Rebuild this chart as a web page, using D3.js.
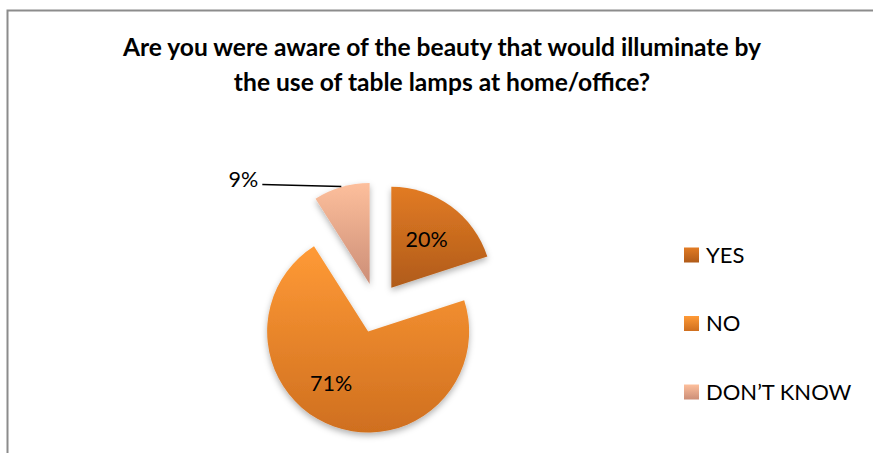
<!DOCTYPE html>
<html>
<head>
<meta charset="utf-8">
<script src="https://cdn.jsdelivr.net/npm/d3@7"></script>
<style>
  html, body { margin: 0; padding: 0; background: #fff; }
  svg { display: block; font-family: Lato, "Open Sans", sans-serif; }
</style>
</head>
<body>
<div id="chart"></div>
<script>
(function () {
    'use strict';
    var w = 873;
    var h = 453;

    // data
    var categories = ["YES", "NO", "DON\u2019T KNOW"];
    var values = [20, 71, 9];
    var valueLabels = ["20%", "71%", "9%"];
    var titleLines = [
        "Are you were aware of the beauty that would illuminate by",
        "the use of table lamps at home/office?"
    ];
    var topColors = ["#e27b24", "#ff9a36", "#fdbf9c"];
    var bottomColors = ["#b05b19", "#cf6f1f", "#cc8e77"];

    var cx = 376.6, cy = 308, r = 101, explode = 25;

    var svg = d3.select("#chart")
        .append("svg")
        .attr("width", w)
        .attr("height", h);

    var defs = svg.append("defs");

    // one vertical gradient per category
    categories.forEach(function (c, i) {
        var g = defs.append("linearGradient")
            .attr("id", "grad" + i)
            .attr("x1", 0).attr("y1", 0)
            .attr("x2", 0).attr("y2", 1);
        g.append("stop").attr("offset", "0%").attr("stop-color", topColors[i]);
        g.append("stop").attr("offset", "100%").attr("stop-color", bottomColors[i]);
    });

    var shadow = defs.append("filter")
        .attr("id", "shadow")
        .attr("x", "-20%").attr("y", "-20%")
        .attr("width", "140%").attr("height", "140%");
    shadow.append("feDropShadow")
        .attr("dx", 0).attr("dy", 3)
        .attr("stdDeviation", 3)
        .attr("flood-color", "#000")
        .attr("flood-opacity", 0.3);

    // chart border (only top / left edges visible)
    svg.append("rect")
        .attr("x", 7.5).attr("y", 10.5)
        .attr("width", w + 20).attr("height", h + 20)
        .attr("fill", "none")
        .attr("stroke", "#8c8c8c")
        .attr("stroke-width", 2);

    // title
    var title = svg.append("g")
        .attr("font-weight", "bold")
        .attr("font-size", "24.6px")
        .attr("fill", "#000")
        .attr("text-anchor", "middle");
    title.selectAll("text")
        .data(titleLines)
        .enter()
        .append("text")
        .attr("x", 442)
        .attr("y", function (d, i) { return 56 + i * 35; })
        .text(function (d) { return d; });

    // pie
    var pie = d3.pie().sort(null).value(function (d) { return d; });
    var arcs = pie(values);
    var arc = d3.arc().innerRadius(0).outerRadius(r);

    function mid(d) { return (d.startAngle + d.endAngle) / 2; }
    function offset(d, dist) {
        var a = mid(d);
        return [Math.sin(a) * dist, -Math.cos(a) * dist];
    }

    var slices = svg.append("g")
        .attr("transform", "translate(" + cx + "," + cy + ")");

    slices.selectAll("path")
        .data(arcs)
        .enter()
        .append("path")
        .attr("transform", function (d) {
            var o = offset(d, explode);
            return "translate(" + o[0] + "," + o[1] + ")";
        })
        .attr("d", arc)
        .attr("fill", function (d, i) { return "url(#grad" + i + ")"; })
        .attr("filter", "url(#shadow)");

    // labels: inside for the large slices, leader line for the small one
    var labelAngleShift = [0, 0.27, 0];
    var labelDist = [60, 64, 0];

    arcs.forEach(function (d, i) {
        var o = offset(d, explode);
        if (i < 2) {
            var a = mid(d) + labelAngleShift[i];
            slices.append("text")
                .attr("x", o[0] + Math.sin(a) * labelDist[i])
                .attr("y", o[1] - Math.cos(a) * labelDist[i])
                .attr("dy", "0.35em")
                .attr("text-anchor", "middle")
                .attr("font-size", "21.5px")
                .attr("fill", "#000")
                .text(valueLabels[i]);
        } else {
            var edge = offset(d, explode + r + 0.5);
            var end = [edge[0] - 79, edge[1] - 2];
            slices.append("path")
                .attr("d", d3.line()([edge, end]))
                .attr("stroke", "#000")
                .attr("stroke-width", 1.3)
                .attr("fill", "none");
            slices.append("text")
                .attr("x", end[0] - 4)
                .attr("y", end[1] + 2)
                .attr("text-anchor", "end")
                .attr("font-size", "21.5px")
                .attr("fill", "#000")
                .text(valueLabels[i]);
        }
    });

    // legend
    var ly = d3.scalePoint().domain(categories).range([255, 392]);
    var legend = svg.append("g");
    var items = legend.selectAll("g")
        .data(categories)
        .enter()
        .append("g")
        .attr("transform", function (d) { return "translate(684," + ly(d) + ")"; });
    items.append("rect")
        .attr("x", 0).attr("y", -7.5)
        .attr("width", 15).attr("height", 15)
        .attr("fill", function (d, i) { return "url(#grad" + i + ")"; });
    items.append("text")
        .attr("x", 22)
        .attr("y", 0)
        .attr("dy", "0.36em")
        .attr("font-size", "22px")
        .attr("fill", "#000")
        .text(function (d) { return d; });
}());
</script>
</body>
</html>
